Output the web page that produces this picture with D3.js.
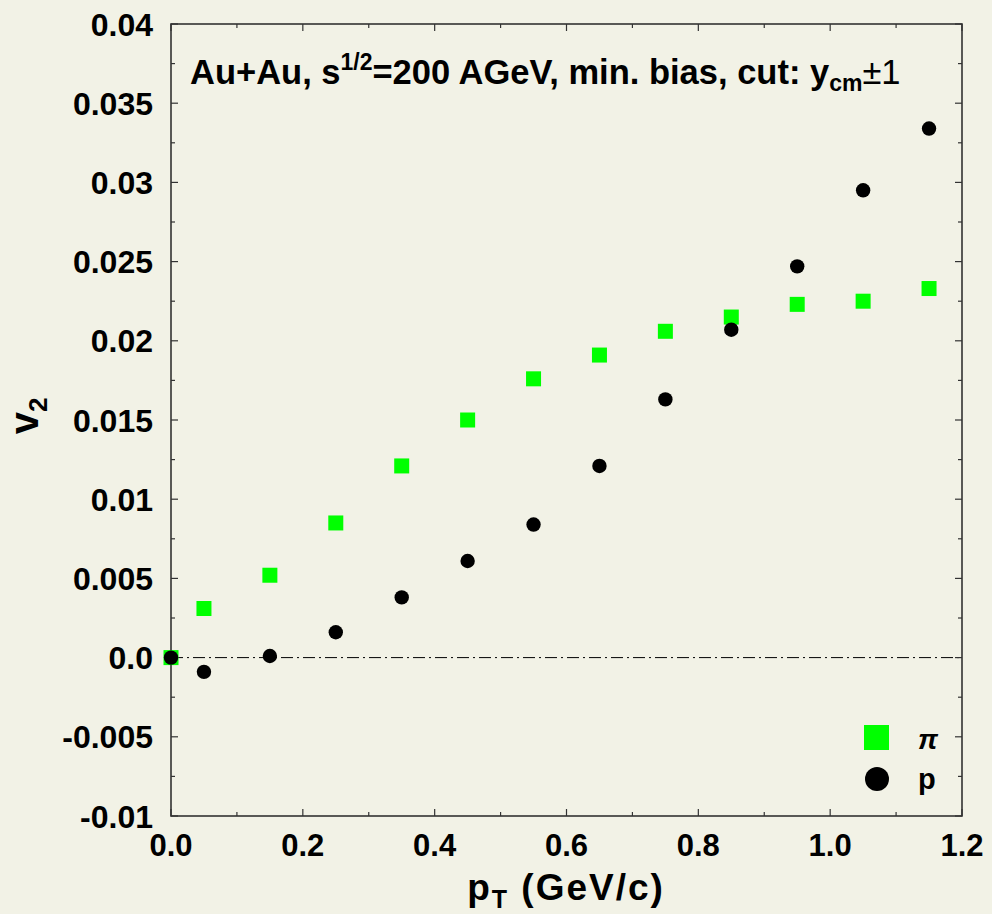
<!DOCTYPE html>
<html><head><meta charset="utf-8">
<script src="https://cdn.jsdelivr.net/npm/d3@7"></script>
<style>
html,body{margin:0;padding:0;background:#f2f2e6;}
svg{display:block;}
text{font-family:"Liberation Sans",Arial,sans-serif;font-weight:bold;fill:#000;}
</style></head>
<body><svg id="c" width="992" height="914"></svg>
<script>
const pt = [0.0, 0.05, 0.15, 0.25, 0.35, 0.45, 0.55, 0.65, 0.75, 0.85, 0.95, 1.05, 1.15];
const v2Pion = [0.0, 0.0031, 0.0052, 0.0085, 0.0121, 0.0150, 0.0176, 0.0191, 0.0206, 0.0215, 0.0223, 0.0225, 0.0233];
const v2Proton = [0.0, -0.0009, 0.0001, 0.0016, 0.0038, 0.0061, 0.0084, 0.0121, 0.0163, 0.0207, 0.0247, 0.0295, 0.0334];
const xTicks = [0.0, 0.2, 0.4, 0.6, 0.8, 1.0, 1.2];
const xTickLabels = ["0.0", "0.2", "0.4", "0.6", "0.8", "1.0", "1.2"];
const yTicks = [-0.01, -0.005, 0.0, 0.005, 0.01, 0.015, 0.02, 0.025, 0.03, 0.035, 0.04];
const yTickLabels = ["-0.01", "-0.005", "0.0", "0.005", "0.01", "0.015", "0.02", "0.025", "0.03", "0.035", "0.04"];
const xMinor = [0.1, 0.3, 0.5, 0.7, 0.9, 1.1];
const yMinor = [-0.0075, -0.0025, 0.0025, 0.0075, 0.0125, 0.0175, 0.0225, 0.0275, 0.0325, 0.0375];

const svg = d3.select("#c");
const L = 171, R = 962, T = 24, B = 816;
const x = d3.scaleLinear().domain([0, 1.2]).range([L, R]);
const y = d3.scaleLinear().domain([-0.01, 0.04]).range([B, T]);

svg.append("rect").attr("width", 992).attr("height", 914).attr("fill", "#f2f2e6");

// zero line
svg.append("line").attr("x1", L).attr("x2", R).attr("y1", y(0)).attr("y2", y(0))
  .attr("stroke", "#000").attr("stroke-width", 1).attr("stroke-dasharray", "12,4,2,4");

// frame
svg.append("rect").attr("x", L).attr("y", T).attr("width", R - L).attr("height", B - T)
  .attr("fill", "none").attr("stroke", "#333").attr("stroke-width", 1.6);

const g = svg.append("g");
xTicks.forEach(v => {
  g.append("line").attr("x1", x(v)).attr("x2", x(v)).attr("y1", B).attr("y2", B - 7).attr("stroke", "#333").attr("stroke-width", 1.2);
  g.append("line").attr("x1", x(v)).attr("x2", x(v)).attr("y1", T).attr("y2", T + 7).attr("stroke", "#333").attr("stroke-width", 1.2);
});
xMinor.forEach(v => {
  g.append("line").attr("x1", x(v)).attr("x2", x(v)).attr("y1", B).attr("y2", B - 4).attr("stroke", "#333").attr("stroke-width", 1.2);
  g.append("line").attr("x1", x(v)).attr("x2", x(v)).attr("y1", T).attr("y2", T + 4).attr("stroke", "#333").attr("stroke-width", 1.2);
});
yTicks.forEach(v => {
  g.append("line").attr("x1", L).attr("x2", L + 7).attr("y1", y(v)).attr("y2", y(v)).attr("stroke", "#333").attr("stroke-width", 1.2);
  g.append("line").attr("x1", R).attr("x2", R - 7).attr("y1", y(v)).attr("y2", y(v)).attr("stroke", "#333").attr("stroke-width", 1.2);
});
yMinor.forEach(v => {
  g.append("line").attr("x1", L).attr("x2", L + 4).attr("y1", y(v)).attr("y2", y(v)).attr("stroke", "#333").attr("stroke-width", 1.2);
  g.append("line").attr("x1", R).attr("x2", R - 4).attr("y1", y(v)).attr("y2", y(v)).attr("stroke", "#333").attr("stroke-width", 1.2);
});

// tick labels
xTicks.forEach((v, i) => {
  g.append("text").attr("x", x(v)).attr("y", 856).attr("text-anchor", "middle")
    .attr("font-size", 31).text(xTickLabels[i]);
});
yTicks.forEach((v, i) => {
  g.append("text").attr("x", 153).attr("y", y(v) + 11.5).attr("text-anchor", "end")
    .attr("font-size", 32).text(yTickLabels[i]);
});

// axis titles
const xt = svg.append("text").attr("x", 566).attr("y", 900).attr("text-anchor", "middle")
  .attr("font-size", 37).attr("letter-spacing", 2);
xt.append("tspan").text("p");
xt.append("tspan").attr("font-size", 25).attr("dy", 8).text("T");
xt.append("tspan").attr("dy", -8).text(" (GeV/c)");

const yt = svg.append("text").attr("transform", "translate(38,416) rotate(-90)").attr("text-anchor", "middle").attr("font-size", 40);
yt.append("tspan").text("v");
yt.append("tspan").attr("font-size", 26).attr("dy", 9).text("2");

// title
const tt = svg.append("text").attr("x", 190).attr("y", 84).attr("font-size", 34.5);
tt.append("tspan").text("Au+Au, s");
tt.append("tspan").attr("font-size", 23).attr("dy", -14).text("1/2");
tt.append("tspan").attr("dy", 14).text("=200 AGeV, min. bias, cut: y");
tt.append("tspan").attr("font-size", 23).attr("dy", 7).text("cm");
tt.append("tspan").attr("dy", -7).attr("font-weight", "normal").text("±1");

// data
const sq = 15;
svg.append("g").selectAll("rect").data(pt).join("rect")
  .attr("x", (d) => x(d) - sq / 2).attr("y", (d, i) => y(v2Pion[i]) - sq / 2)
  .attr("width", sq).attr("height", sq).attr("fill", "#00ff00");
svg.append("g").selectAll("circle").data(pt).join("circle")
  .attr("cx", d => x(d)).attr("cy", (d, i) => y(v2Proton[i])).attr("r", 7.2).attr("fill", "#000");

// legend
svg.append("rect").attr("x", 864).attr("y", 725).attr("width", 25).attr("height", 25).attr("fill", "#00ff00");
svg.append("circle").attr("cx", 877).attr("cy", 779).attr("r", 12).attr("fill", "#000");
svg.append("text").attr("x", 918).attr("y", 749).attr("font-size", 28).attr("font-style", "italic").attr("font-weight", "normal")
  .attr("font-family", "DejaVu Serif, serif").text("π");
svg.append("text").attr("x", 918).attr("y", 789).attr("font-size", 29).text("p");
</script></body></html>
